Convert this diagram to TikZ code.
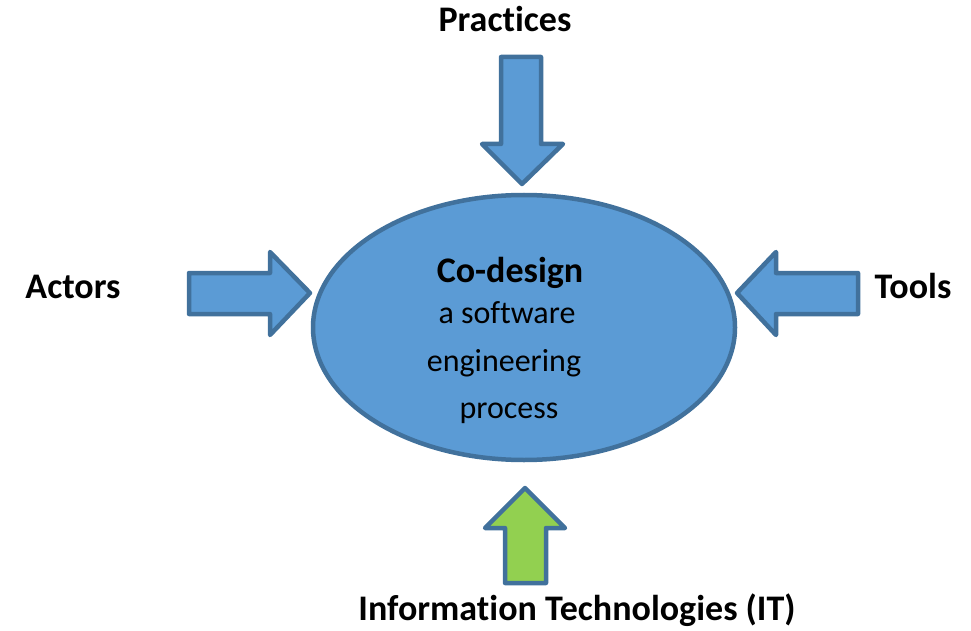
\documentclass[tikz,border=0pt]{standalone}
\usepackage{fontspec}
\setmainfont[Ligatures={NoCommon}]{Carlito}
\usetikzlibrary{shapes.geometric}
\definecolor{fillblue}{HTML}{5B9BD5}
\definecolor{edgeblue}{HTML}{41719C}
\definecolor{fillgreen}{HTML}{92D050}
\begin{document}
\begin{tikzpicture}[x=1pt,y=-1pt,
  blockarrow/.style={draw=edgeblue,fill=fillblue,line width=4.5pt,line join=round},
  greenarrow/.style={blockarrow,fill=fillgreen},
  lbl/.style={font=\fontsize{36}{42}\selectfont\bfseries,anchor=base,inner sep=0pt},
  core/.style={ellipse,draw=edgeblue,fill=fillblue,line width=4.5pt,minimum width=422pt,minimum height=265pt,inner sep=0pt}]
\useasboundingbox (0,0) rectangle (971,631);
% central ellipse
\node[core] (codesign) at (524,327.5) {};
\node[font=\fontsize{36}{42}\selectfont\bfseries,anchor=base,inner sep=0pt] (title) at (510,282) {Co-design};
\node[font=\fontsize{32}{38}\selectfont,anchor=base,inner sep=0pt] (l1) at (507,323) {a software};
\node[font=\fontsize{32}{38}\selectfont,anchor=base,inner sep=0pt] (l2) at (504,371) {engineering};
\node[font=\fontsize{32}{38}\selectfont,anchor=base,inner sep=0pt] (l3) at (509,418) {process};
% top arrow
\draw[blockarrow] (501,57) -- (541,57) -- (541,144) -- (563,144) -- (522,184) -- (482,144) -- (501,144) -- cycle;
% left arrow
\draw[blockarrow] (189,273) -- (270,273) -- (270,252) -- (310,293) -- (270,335) -- (270,314) -- (189,314) -- cycle;
% right arrow
\draw[blockarrow] (858,273) -- (776,273) -- (776,252) -- (737,293) -- (776,335) -- (776,314) -- (858,314) -- cycle;
% bottom arrow
\draw[greenarrow] (505,583) -- (546,583) -- (546,528) -- (565,528) -- (525,488) -- (485,528) -- (505,528) -- cycle;
% labels
\node[lbl] (practices) at (505,32) {Practices};
\node[lbl] (actors) at (73,298) {Actors};
\node[lbl] (tools) at (913,298) {Tools};
\node[lbl] (it) at (577,620) {Information Technologies (IT)};
\end{tikzpicture}
\end{document}
